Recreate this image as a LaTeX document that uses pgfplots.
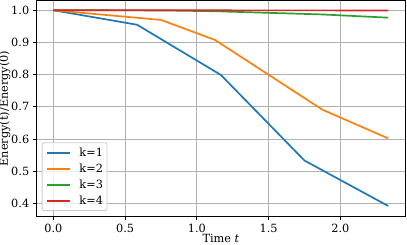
\documentclass[border=0pt]{standalone}
\usepackage{fontspec}
\setmainfont{DejaVu Serif}
\usepackage{pgfplots}
\pgfplotsset{compat=1.18}
\definecolor{c1}{HTML}{1F77B4}
\definecolor{c2}{HTML}{FF7F0E}
\definecolor{c3}{HTML}{2CA02C}
\definecolor{c4}{HTML}{D62728}
\definecolor{gridc}{HTML}{B0B0B0}
\begin{document}
\begin{tikzpicture}[font=\fontsize{11.3}{13.5}\selectfont]
\begin{axis}[
  name=ax,
  scale only axis, width=368.3pt, height=216pt,
  xmin=-0.1167, xmax=2.45, ymin=0.3595, ymax=1.0305,
  xtick={0,0.5,1.0,1.5,2.0}, xticklabels={0.0,0.5,1.0,1.5,2.0},
  ytick={0.4,0.5,0.6,0.7,0.8,0.9,1.0}, yticklabels={0.4,0.5,0.6,0.7,0.8,0.9,1.0},
  grid=major, major grid style={color=gridc, line width=0.9pt},
  axis line style={line width=0.9pt, black},
  tick style={line width=0.9pt, black}, tick align=outside, major tick length=3.96pt,
  xtick pos=bottom, ytick pos=left,
  tick label style={font=\fontsize{11.3}{13.5}\selectfont},
  xlabel={Time \textit{t}}, ylabel={Energy(t)/Energy(0)},
  xlabel style={at={(axis description cs:0.5,-0.12)}, anchor=base, inner sep=0pt},
  ylabel style={at={(axis description cs:-0.07793,0.5)}, anchor=base},
  legend style={at={(0,0)}, anchor=south west, xshift=5pt, yshift=5.3pt,
    rounded corners=2pt, draw=black!20, line width=0.9pt, fill=white, fill opacity=0.8, text opacity=1,
    font=\fontsize{11.3}{13.5}\selectfont, row sep=5.65pt, inner xsep=4pt, inner ysep=4.8pt,
    nodes={inner sep=0pt, text height=8.5pt, text depth=1.85pt},
    /tikz/every odd column/.append style={column sep=9pt}},
  legend cell align=left,
  legend image code/.code={\draw[#1] (0pt,0pt) -- (22.6pt,0pt);},
  every axis plot/.append style={line width=1.7pt},
]
\addplot[c1] coordinates {(0,1.0) (0.583,0.955) (1.167,0.799) (1.75,0.533) (2.333,0.392)};
\addlegendentry{k=1}
\addplot[c2] coordinates {(0,1.0) (0.75,0.970) (1.125,0.908) (1.875,0.691) (2.333,0.602)};
\addlegendentry{k=2}
\addplot[c3] coordinates {(0,1.0) (0.75,0.9995) (1.125,0.997) (1.875,0.987) (2.333,0.977)};
\addlegendentry{k=3}
\addplot[c4] coordinates {(0,1.0) (2.333,0.9995)};
\addlegendentry{k=4}
\node[anchor=base east, inner sep=0pt] at (axis description cs:1,-0.12) {1e−8};
\end{axis}
\pgfresetboundingbox
\path[use as bounding box] ([xshift=-36.7pt,yshift=-28pt]ax.south west) rectangle ([xshift=2pt,yshift=0.45pt]ax.north east);
\end{tikzpicture}
\end{document}
